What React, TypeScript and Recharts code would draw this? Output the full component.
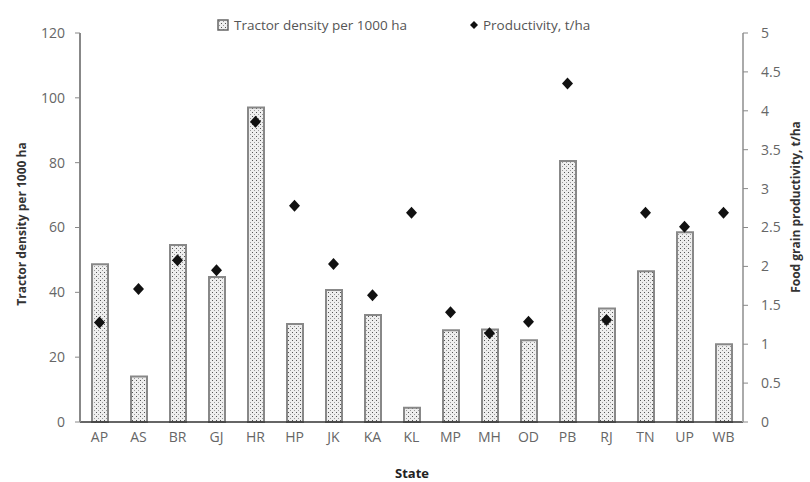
import React from "react";
import { ComposedChart, Bar, Scatter, XAxis, YAxis } from "recharts";

const states = ["AP", "AS", "BR", "GJ", "HR", "HP", "JK", "KA", "KL", "MP", "MH", "OD", "PB", "RJ", "TN", "UP", "WB"];
const tractorDensity = [48.7, 14, 54.6, 44.7, 97, 30.2, 40.7, 33, 4.4, 28.3, 28.5, 25.2, 80.5, 35, 46.5, 58.5, 24];
const productivity = [1.28, 1.71, 2.08, 1.95, 3.86, 2.78, 2.03, 1.63, 2.69, 1.41, 1.14, 1.29, 4.35, 1.31, 2.69, 2.51, 2.69];
const leftTicks = [0, 20, 40, 60, 80, 100, 120];
const rightTicks = [0, 0.5, 1, 1.5, 2, 2.5, 3, 3.5, 4, 4.5, 5];

const data = states.map((s, i) => ({ state: s, density: tractorDensity[i], prod: productivity[i] }));

const FONT = "'Open Sans', sans-serif";
const tickStyle = { fill: "#666", fontSize: 14, fontFamily: FONT };

// diamond marker for the productivity series
const Diamond = (props: any) => {
  const { cx, cy } = props;
  if (cx == null || cy == null) return null;
  return <polygon points={`${cx},${cy - 6} ${cx + 5.5},${cy} ${cx},${cy + 6} ${cx - 5.5},${cy}`} fill="#111" />;
};

export default function App() {
  return (
    <div style={{ position: "absolute", left: 0, top: 0, width: 810, height: 482, background: "#fff" }}>
      <ComposedChart
        width={810}
        height={482}
        data={data}
        margin={{ top: 33, right: 17, bottom: 30, left: 30 }}
      >
        <defs>
          <pattern id="dots" width="4" height="4" patternUnits="userSpaceOnUse">
            <rect width="4" height="4" fill="#eeeeee" />
            <rect x="0" y="0" width="1" height="1" fill="#555" />
            <rect x="2" y="2" width="1" height="1" fill="#999" />
          </pattern>
        </defs>
        <XAxis
          dataKey="state"
          tick={tickStyle}
          tickLine={false}
          tickMargin={4}
          axisLine={{ stroke: "#333", strokeWidth: 1.5 }}
          height={30}
          label={{
            content: () => (
              <text x={412} y={478} textAnchor="middle" fontFamily={FONT} fontSize={13} fontWeight="bold" fill="#222">
                State
              </text>
            ),
          }}
        />
        <YAxis
          yAxisId="left"
          domain={[0, 120]}
          ticks={leftTicks}
          width={50}
          tick={tickStyle}
          tickSize={5}
          tickMargin={10}
          tickLine={{ stroke: "#888" }}
          axisLine={{ stroke: "#888", strokeWidth: 2 }}
          label={{
            content: () => (
              <text
                x={26}
                y={224}
                transform="rotate(-90 26 224)"
                textAnchor="middle"
                fontFamily={FONT}
                fontSize={12}
                fontWeight="bold"
                fill="#333"
              >
                Tractor density per 1000 ha
              </text>
            ),
          }}
        />
        <YAxis
          yAxisId="right"
          orientation="right"
          domain={[0, 5]}
          ticks={rightTicks}
          width={50}
          tick={tickStyle}
          tickSize={5}
          tickMargin={13}
          tickLine={{ stroke: "#888" }}
          axisLine={{ stroke: "#aaa", strokeWidth: 2 }}
          label={{
            content: () => (
              <text
                x={800}
                y={207}
                transform="rotate(-90 800 207)"
                textAnchor="middle"
                fontFamily={FONT}
                fontSize={12}
                fontWeight="bold"
                fill="#333"
              >
                Food grain productivity, t/ha
              </text>
            ),
          }}
        />
        <Bar
          yAxisId="left"
          dataKey="density"
          barSize={16}
          fill="url(#dots)"
          stroke="#888"
          strokeWidth={2}
          isAnimationActive={false}
        />
        <Scatter yAxisId="right" dataKey="prod" shape={<Diamond />} isAnimationActive={false} />
      </ComposedChart>
      <div
        style={{
          position: "absolute",
          top: 16,
          left: 217,
          display: "flex",
          alignItems: "center",
          fontFamily: FONT,
          fontSize: 13.5,
          color: "#555",
          whiteSpace: "nowrap",
        }}
      >
        <svg width="12" height="12" style={{ marginRight: 5 }}>
          <rect x="1" y="1" width="10" height="10" fill="url(#dots)" stroke="#666" strokeWidth="1.5" />
        </svg>
        <span>Tractor density per 1000 ha</span>
        <svg width="10" height="10" style={{ marginLeft: 62, marginRight: 4 }}>
          <polygon points="5,1 9,5 5,9 1,5" fill="#111" />
        </svg>
        <span>Productivity, t/ha</span>
      </div>
    </div>
  );
}
